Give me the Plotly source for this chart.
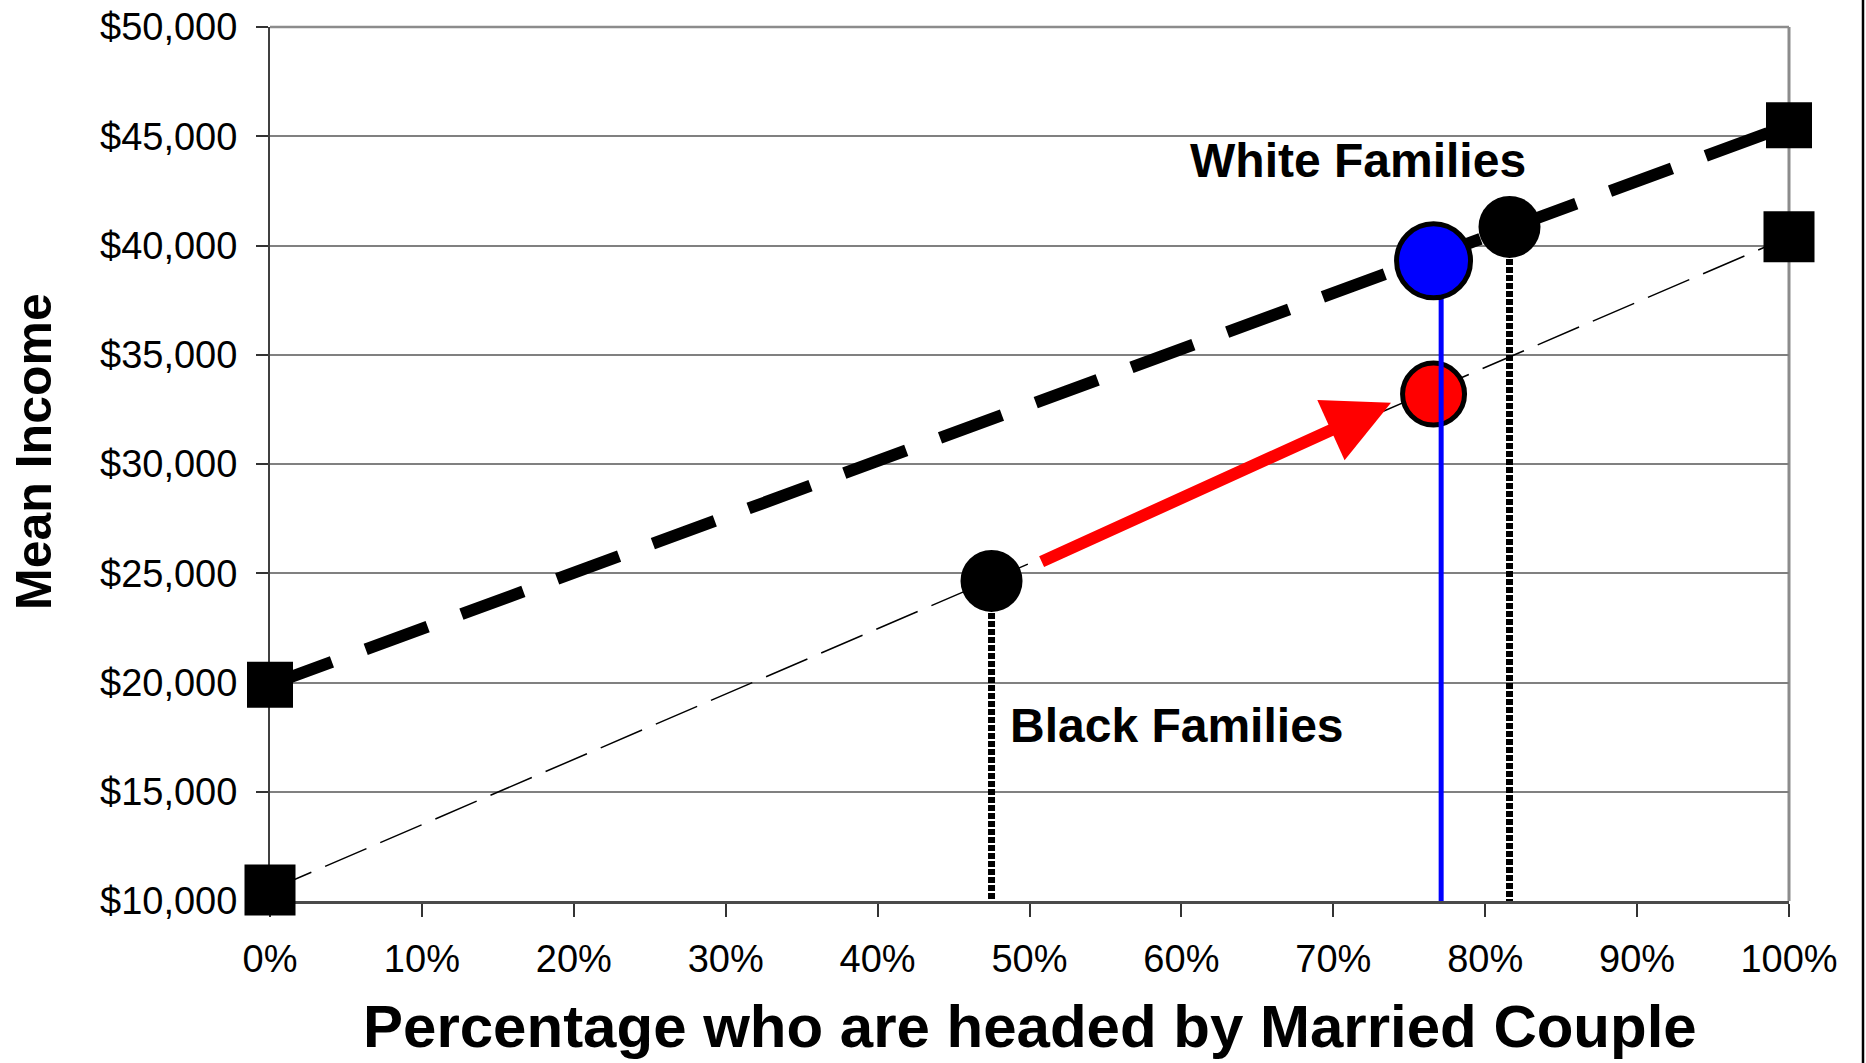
import plotly.graph_objects as go

# ---------------- data ----------------
x_ends = [0, 100]                      # % headed by married couple
white_trend = [19900, 45500]           # upper (thick dashed) line end values
black_trend = [10500, 40400]           # lower (thin dashed) line end values

black_fam_pct = [47.5]
black_fam_income = [24650]
white_fam_pct = [81.6]
white_fam_income = [40850]

blue_pct = [76.6]
blue_income = [39300]
red_pct = [76.6]
red_income = [33200]
blue_drop_pct = [77.1, 77.1]

axis_floor = 10000

arrow_start = [50.7, 25500]
arrow_end = [73.8, 32800]

x_ticks = list(range(0, 101, 10))
y_ticks = list(range(10000, 50001, 5000))

white_label = ("White Families", 71.6, 43870)
black_label = ("Black Families", 59.7, 18050)

# ---------------- layout geometry ----------------
W, H = 1866, 1063
L, R, T, B = 270, 1789, 27, 901


def pxx(p):
    return (p - L) / (R - L)


def pxy(p):
    return (B - p) / (B - T)


FONT = "Liberation Sans, Arial, sans-serif"

fig = go.Figure()

# lower thin dashed trend line
fig.add_trace(go.Scatter(x=x_ends, y=black_trend, mode="lines",
                         line=dict(color="black", width=1.5, dash="45px,15px"),
                         cliponaxis=False, hoverinfo="skip"))
# upper thick dashed trend line
fig.add_trace(go.Scatter(x=x_ends, y=white_trend, mode="lines",
                         line=dict(color="black", width=12, dash="66px,36px"),
                         cliponaxis=False, hoverinfo="skip"))
# dotted drop lines
fig.add_trace(go.Scatter(x=black_fam_pct * 2, y=[black_fam_income[0], axis_floor], mode="lines",
                         line=dict(color="black", width=7, dash="6px,2px"),
                         cliponaxis=False, hoverinfo="skip"))
fig.add_trace(go.Scatter(x=white_fam_pct * 2, y=[white_fam_income[0], axis_floor], mode="lines",
                         line=dict(color="black", width=7, dash="6px,2px"),
                         cliponaxis=False, hoverinfo="skip"))
# end squares
fig.add_trace(go.Scatter(x=x_ends, y=white_trend, mode="markers",
                         marker=dict(symbol="square", size=46, color="black"),
                         cliponaxis=False, hoverinfo="skip"))
fig.add_trace(go.Scatter(x=x_ends, y=black_trend, mode="markers",
                         marker=dict(symbol="square", size=51, color="black"),
                         cliponaxis=False, hoverinfo="skip"))
# red circle
fig.add_trace(go.Scatter(x=red_pct, y=red_income, mode="markers",
                         marker=dict(size=62, color="#FF0000", line=dict(color="black", width=5)),
                         cliponaxis=False, hoverinfo="skip"))
# blue drop line
fig.add_trace(go.Scatter(x=blue_drop_pct, y=[blue_income[0], axis_floor], mode="lines",
                         line=dict(color="#0000FF", width=5),
                         cliponaxis=False, hoverinfo="skip"))
# blue circle
fig.add_trace(go.Scatter(x=blue_pct, y=blue_income, mode="markers",
                         marker=dict(size=74, color="#0000FF", line=dict(color="black", width=5)),
                         cliponaxis=False, hoverinfo="skip"))
# black circles
fig.add_trace(go.Scatter(x=black_fam_pct + white_fam_pct, y=black_fam_income + white_fam_income,
                         mode="markers", marker=dict(size=62, color="black"),
                         cliponaxis=False, hoverinfo="skip"))

annotations = [
    dict(x=arrow_end[0], y=arrow_end[1], ax=arrow_start[0], ay=arrow_start[1],
         xref="x", yref="y", axref="x", ayref="y", text="", showarrow=True,
         arrowhead=2, arrowsize=1.1, arrowwidth=12, arrowcolor="#FF0000", standoff=0),
    dict(x=white_label[1], y=white_label[2], xref="x", yref="y", text=white_label[0],
         showarrow=False, font=dict(family=FONT, size=48, color="black", weight="bold")),
    dict(x=black_label[1], y=black_label[2], xref="x", yref="y", text=black_label[0],
         showarrow=False, font=dict(family=FONT, size=48, color="black", weight="bold")),
    dict(x=pxx(1030), y=pxy(1026), xref="paper", yref="paper",
         text="Percentage who are headed by Married Couple", showarrow=False,
         xanchor="center", yanchor="middle",
         font=dict(family=FONT, size=60, color="black", weight="bold")),
    dict(x=pxx(34), y=pxy(452), xref="paper", yref="paper", text="Mean Income",
         showarrow=False, textangle=-90, xanchor="center", yanchor="middle",
         font=dict(family=FONT, size=50, color="black", weight="bold")),
]

shapes = [
    dict(type="line", xref="paper", yref="paper", x0=0, x1=1, y0=1, y1=1,
         line=dict(color="#8c8c8c", width=2.5), layer="between"),
    dict(type="line", xref="paper", yref="paper", x0=1, x1=1, y0=0, y1=1,
         line=dict(color="#8c8c8c", width=3), layer="between"),
    dict(type="line", xref="paper", yref="paper", x0=pxx(1863), x1=pxx(1863),
         y0=pxy(0), y1=pxy(H), line=dict(color="black", width=2.5)),
]

fig.update_layout(
    width=W, height=H,
    margin=dict(l=L, r=W - R, t=T, b=H - B, pad=0),
    paper_bgcolor="white", plot_bgcolor="white",
    showlegend=False,
    annotations=annotations,
    shapes=shapes,
    font=dict(family=FONT, color="black"),
)

fig.update_xaxes(range=[0, 100], tickvals=x_ticks, ticktext=[f"{v}%" for v in x_ticks],
                 showgrid=False, zeroline=False, showline=True, linecolor="#4a4a4a", linewidth=2.5,
                 ticks="outside", ticklen=13, tickwidth=1.5, tickcolor="#333",
                 tickfont=dict(family=FONT, size=38, color="black"),
                 ticklabelstandoff=10, layer="below traces", automargin=False, fixedrange=True)
fig.update_yaxes(range=[10000, 50000], tickvals=y_ticks, ticktext=[f"${v:,}" for v in y_ticks],
                 showgrid=True, gridcolor="#808080", gridwidth=1.5, zeroline=False,
                 showline=True, linecolor="#404040", linewidth=2,
                 ticks="outside", ticklen=12, tickwidth=1.5, tickcolor="#333",
                 tickfont=dict(family=FONT, size=38, color="black"),
                 ticklabelstandoff=11, layer="below traces", automargin=False, fixedrange=True)

fig.write_html("out.html", config={"displayModeBar": False},
               post_script="document.body.style.margin='0';document.body.style.overflow='hidden';")
